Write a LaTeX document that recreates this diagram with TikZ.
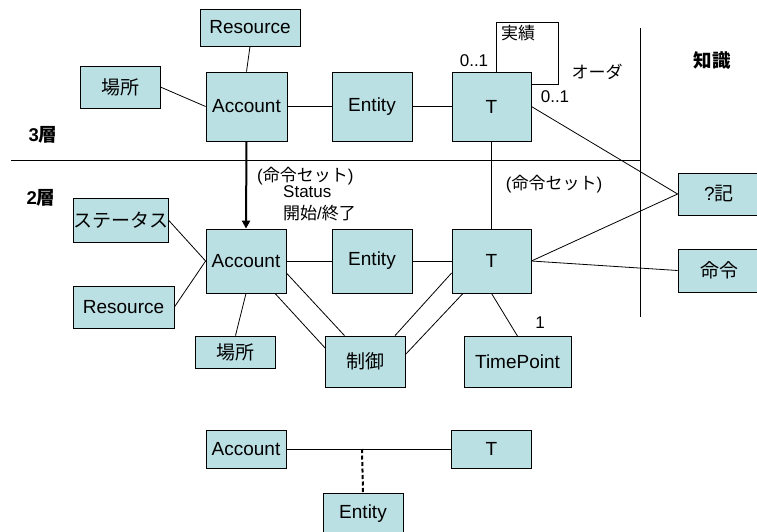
\documentclass[tikz,border=0pt]{standalone}
\usepackage{fontspec}
\setmainfont{Liberation Sans}
\newfontfamily\jp{Noto Sans CJK JP}
\usetikzlibrary{arrows.meta}

\definecolor{boxfill}{RGB}{187,224,227}

\tikzset{
    box/.style={draw=black, fill=boxfill, line width=0.8pt, inner sep=0pt,
        font=\fontsize{19}{22}\selectfont},
    lbl/.style={inner sep=0pt, font=\fontsize{17}{20}\selectfont},
    layer/.style={inner sep=0pt, font=\fontsize{18.5}{21}\selectfont\bfseries},
    link/.style={line width=0.8pt},
}

\begin{document}
\begin{tikzpicture}[x=1pt, y=-1pt]

    \useasboundingbox (0,0) rectangle (757,531);
    \clip (0,0) rectangle (757,531);

    % dividers
    \draw[link] (11,160) -- (640,160);
    \draw[link] (640,28) -- (640,317);

    % 3 layer
    \node[box, minimum width=100pt, minimum height=37pt] (res3) at (250,27.5) {Resource};
    \node[box, minimum width=80pt, minimum height=42pt] (place3) at (120,87) {\jp 場所};
    \node[box, minimum width=81pt, minimum height=69pt] (acc3) at (246.5,106.5) {Account};
    \node[box, minimum width=80pt, minimum height=69pt] (ent3) at (372,106.5) {Entity};
    \node[box, minimum width=79pt, minimum height=69pt] (t3) at (491.5,106.5) {T};

    % 2 layer
    \node[box, minimum width=95pt, minimum height=44pt] (status) at (120.5,220) {\jp ステータス};
    \node[box, minimum width=101pt, minimum height=42pt] (res2) at (123.5,307) {Resource};
    \node[box, minimum width=80pt, minimum height=64pt] (acc2) at (246,261) {Account};
    \node[box, minimum width=80pt, minimum height=64pt] (ent2) at (372,261) {Entity};
    \node[box, minimum width=79pt, minimum height=64pt] (t2) at (491.5,261) {T};
    \node[box, minimum width=80pt, minimum height=32pt] (place2) at (235.5,352) {\jp 場所};
    \node[box, minimum width=80pt, minimum height=51pt] (ctrl) at (365.5,361.5) {\jp 制御};
    \node[box, minimum width=107pt, minimum height=51pt] (tp) at (517.5,362) {TimePoint};

    % knowledge
    \node[box, minimum width=82pt, minimum height=42pt] (rec) at (719,194) {?{\jp 記}};
    \node[box, minimum width=82pt, minimum height=43pt] (cmd) at (719,270.5) {\jp 命令};

    % bottom
    \node[box, minimum width=80pt, minimum height=38pt] (acc1) at (246,449) {Account};
    \node[box, minimum width=80pt, minimum height=38pt] (t1) at (491.5,449) {T};
    \node[box, minimum width=80pt, minimum height=42pt] (ent1) at (363,514) {Entity};

    % labels
    \node[layer] (lay3) at (43,135) {3{\jp 層}};
    \node[layer] (lay2) at (41,198) {2{\jp 層}};
    \node[layer] (know) at (712,61) {\jp 知識};
    \node[lbl] (actual) at (518,33) {\jp 実績};
    \node[lbl] (mulA) at (474,61) {0..1};
    \node[lbl] (mulB) at (555,97) {0..1};
    \node[lbl] (order) at (597,72) {\jp オーダ};
    \node[lbl] (setR) at (554,184) {({\jp 命令セット})};
    \node[lbl, anchor=west] (setL) at (257,176) {({\jp 命令セット})};
    \node[lbl, anchor=west] (stat) at (283,192) {Status};
    \node[lbl, anchor=west] (span) at (283,213) {{\jp 開始}/{\jp 終了}};
    \node[lbl] (one) at (540,323) {1};

    % links
    \foreach \a/\b in {acc3/ent3, ent3/t3, acc2/ent2, ent2/t2, acc1/t1}{
        \draw[link] (\a) -- (\b);
    }
    \draw[link] (res3.south) -- (acc3.north);
    \draw[link] (place3.east) -- (acc3.west);
    \draw[link] (t3.east) -- (rec.west);
    \draw[link] (t3.south) -- (t2.north);
    \draw[link] (t2.east) -- (rec.west);
    \draw[link] (t2.east) -- (cmd.west);
    \draw[link] (status.east) -- (acc2.west);
    \draw[link] (res2.east) -- (acc2.west);
    \draw[link] (place2.north) -- (acc2.south);
    \draw[link] ([yshift=-12pt]acc2.east) -- ([xshift=-21pt]ctrl.north);
    \draw[link] ([xshift=29pt]acc2.south) -- ([yshift=13.5pt]ctrl.west);
    \draw[link] ([yshift=-12pt]t2.west) -- ([xshift=29.5pt]ctrl.north);
    \draw[link] ([xshift=-28.5pt]t2.south) -- ([yshift=7.5pt]ctrl.east);
    \draw[link] (t2.south) -- (tp.north);

    % self loop
    \coordinate (loop) at (558,22);
    \draw[link] ([xshift=4.5pt]t3.north) |- (loop) |- ([yshift=22.5pt]t3.east);

    % command set
    \draw[line width=2pt, -{Triangle[length=8pt, width=8pt]}] (acc3.south) -- (acc2.north);

    % association class
    \coordinate (joint) at (362,449);
    \draw[line width=2pt, dash pattern=on 4pt off 2.5pt] (joint) -- (ent1.north);
\end{tikzpicture}
\end{document}
